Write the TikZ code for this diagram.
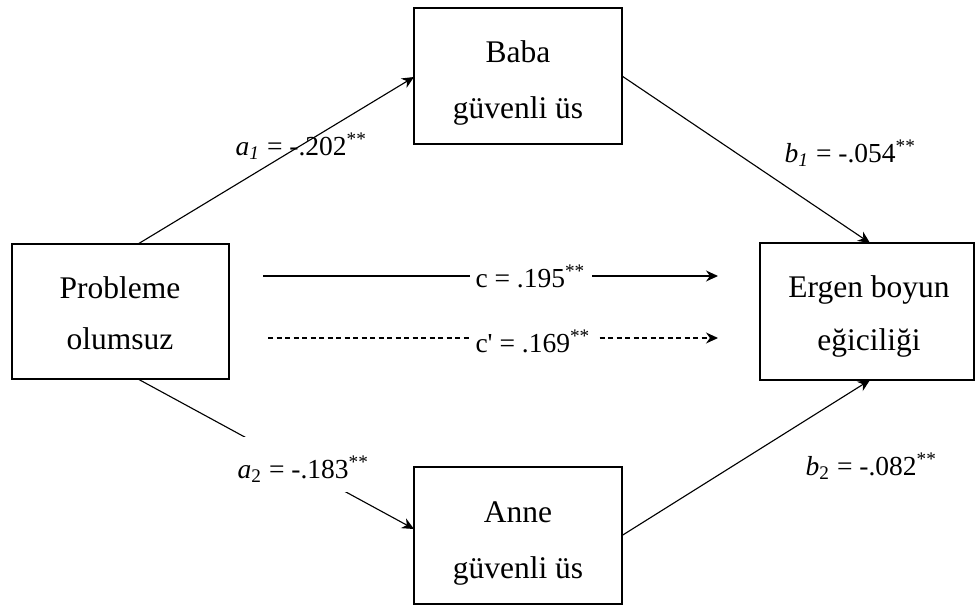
\documentclass[tikz,border=0pt]{standalone}
\usepackage{fontspec}
\setmainfont{Liberation Serif}[Ligatures=TeXOff]
\usetikzlibrary{arrows.meta}
\begin{document}
\begin{tikzpicture}[x=0.4pt,y=-0.4pt,
  box/.style={draw, line width=0.5pt, rectangle, inner sep=0pt, outer sep=0pt},
  txt/.style={anchor=base, inner sep=0pt, font=\fontsize{12.6}{14}\selectfont},
  lab/.style={anchor=base west, inner ysep=0pt, font=\fontsize{11}{13}\selectfont},
  conn/.style={line width=0.45pt, -{Stealth[length=4.8pt,width=4.4pt]}},
  dashconn/.style={conn, dash pattern=on 2pt off 1.4pt},
]
\useasboundingbox (0,0) rectangle (975,607);
% boxes
\node[box, minimum width=86.8pt, minimum height=54pt] (lb) at (120.5,311.5) {};
\node[box, minimum width=83.2pt, minimum height=54.4pt] (tb) at (518,76) {};
\node[box, minimum width=83.2pt, minimum height=54.8pt] (bb) at (518,535.5) {};
\node[box, minimum width=85.6pt, minimum height=54.8pt] (rb) at (867,311.5) {};
% box texts
\node[txt] (lb1) at (120,298) {Probleme};
\node[txt] (lb2) at (120,349.5) {olumsuz};
\node[txt] (tb1) at (518,62) {Baba};
\node[txt] (tb2) at (518,118) {güvenli üs};
\node[txt] (bb1) at (518,522) {Anne};
\node[txt] (bb2) at (518,578) {güvenli üs};
\node[txt] (rb1) at (869,297) {Ergen boyun};
\node[txt] (rb2) at (869,350.5) {eğiciliği};
% connectors
\draw[conn] ([xshift=7pt]lb.north) -- ([yshift=-0.4pt]tb.west);
\draw[conn] (tb.east) -- ([xshift=1.2pt]rb.north);
\draw[conn] ([xshift=7pt]lb.south) -- ([yshift=2.6pt]bb.west);
\draw[conn] (bb.east) -- ([xshift=1.2pt]rb.south);
\coordinate (cs) at (263,276);
\coordinate (ce) at (718,276);
\coordinate (ds) at (268,338);
\coordinate (de) at (718,338);
\draw[conn] (cs) -- (ce);
\draw[dashconn] (ds) -- (de);
% labels
\node[lab, inner xsep=0pt] (la1) at (235,155) {\textit{a}\textsubscript{\textit{1}} = -.202\textsuperscript{**}};
\node[lab, fill=white, inner xsep=0.4pt, text height=12.8pt, text depth=4.4pt] (lb1l) at (783,162) {\textit{b}\textsubscript{\textit{1}} = -.054\textsuperscript{**}};
\node[lab, fill=white, inner xsep=2.4pt, text height=16pt, text depth=3.2pt] (lc) at (469,287) {c = .195\textsuperscript{**}};
\node[lab, fill=white, inner xsep=2.4pt, text height=15.2pt, text depth=3.6pt] (lcp) at (469,352) {c' = .169\textsuperscript{**}};
\node[lab, fill=white, inner xsep=0.8pt, text height=16.4pt, text depth=5.6pt] (la2) at (235,478) {\textit{a}\textsubscript{2} = -.183\textsuperscript{**}};
\node[lab, fill=white, inner xsep=0.8pt, text height=16.8pt, text depth=4pt] (lb2l) at (803,475) {\textit{b}\textsubscript{2} = -.082\textsuperscript{**}};
\end{tikzpicture}
\end{document}
